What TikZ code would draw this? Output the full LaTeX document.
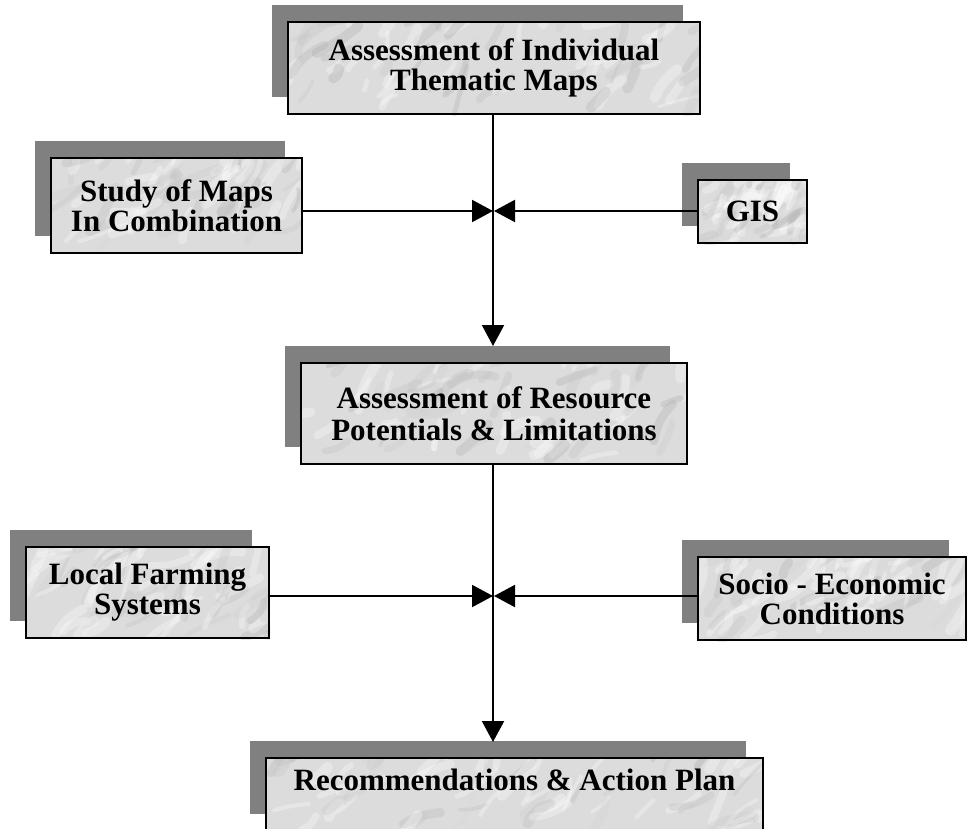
\documentclass[tikz,border=0pt]{standalone}
\usepackage{fontspec}
\setmainfont{Liberation Serif}
\usetikzlibrary{arrows.meta,calc}
\pgfdeclarelayer{shadowlayer}
\pgfdeclarelayer{filllayer}
\pgfsetlayers{shadowlayer,filllayer,main}
\definecolor{shadowgray}{RGB}{128,128,128}
\definecolor{marblebase}{RGB}{220,220,220}
\definecolor{marbledark}{RGB}{160,160,160}
\tikzset{
  box/.style={draw=black, line width=2pt, inner sep=0pt, align=center,
    font=\fontsize{31}{30}\selectfont\bfseries},
  link/.style={draw=black, line width=2pt},
  tip/.style={-{Triangle[length=21pt,width=22pt]}},
}
\newcommand\boxdeco[1]{%
  \path (#1.north west); \pgfgetlastxy{\mxa}{\mya}%
  \path (#1.south east); \pgfgetlastxy{\mxb}{\myb}%
  \begin{pgfonlayer}{shadowlayer}
    \fill[shadowgray] (\mxa-15pt,\mya+16pt) rectangle (\mxb-18pt,\myb+18pt);
  \end{pgfonlayer}
  \begin{pgfonlayer}{filllayer}
    \fill[marblebase] (\mxa,\mya) rectangle (\mxb,\myb);
    \begin{scope}
      \clip (\mxa,\mya) rectangle (\mxb,\myb);
      \foreach \k in {1,...,70}{
        \pgfmathsetmacro\sx{\mxa+rnd*(\mxb-\mxa)}
        \pgfmathsetmacro\sy{\myb+rnd*(\mya-\myb)}
        \pgfmathsetmacro\ang{rnd*70+10}
        \pgfmathsetmacro\len{10+rnd*40}
        \pgfmathsetmacro\wd{3+rnd*8}
        \pgfmathtruncatemacro\gv{rnd<0.5 ? 100 : 10+rnd*50}
        \pgfmathtruncatemacro\bnd{rnd*50-25}
        \draw[line width=\wd pt, line cap=round, opacity=0.3,
              color=white!\gv!marbledark]
          (\sx pt,\sy pt) to[bend left=\bnd] ++(\ang:\len pt);
      }
    \end{scope}
  \end{pgfonlayer}}
\begin{document}
\begin{tikzpicture}[x=1pt,y=-1pt]
\useasboundingbox (0,0) rectangle (967,828);
\pgfmathsetseed{4321}

\node[box, minimum width=412pt, minimum height=92pt] (a) at (494,68)
  {Assessment of Individual\\Thematic Maps};
\node[box, minimum width=251pt, minimum height=95pt] (b) at (176.5,205.5)
  {Study of Maps\\In Combination};
\node[box, minimum width=109pt, minimum height=63pt] (c) at (752.5,211.5)
  {GIS};
\node[box, minimum width=386pt, minimum height=101pt] (d) at (494,413.5)
  {Assessment of Resource\\[2pt]Potentials \& Limitations};
\node[box, minimum width=243pt, minimum height=91pt] (e) at (147.5,592.5)
  {Local Farming\\Systems};
\node[box, minimum width=268pt, minimum height=83pt] (f) at (832,598.5)
  {Socio - Economic\\Conditions};
\node[box, anchor=north, minimum width=497pt, inner ysep=10pt,
      text height=22pt, text depth=31pt] (g) at (514.5,757)
  {Recommendations \& Action Plan};

\boxdeco{a}\boxdeco{b}\boxdeco{c}\boxdeco{d}\boxdeco{e}\boxdeco{f}\boxdeco{g}

\coordinate (j1) at (493,211);
\coordinate (j2) at (493,596);
\coordinate (dtop) at ($(d.north)+(-1,-16)$);
\coordinate (gtop) at ($(g.north)+(-21.5,-15)$);

\draw[link] (a.south -| j1) -- (j1);
\draw[link, tip] (j1) -- (dtop);
\draw[link, tip] (b.east |- j1) -- (j1);
\draw[link, tip] (c.west |- j1) -- ([xshift=1pt]j1);
\draw[link] (d.south -| j2) -- (j2);
\draw[link, tip] (j2) -- (gtop);
\draw[link, tip] (e.east |- j2) -- (j2);
\draw[link, tip] (f.west |- j2) -- ([xshift=1pt]j2);
\end{tikzpicture}
\end{document}
